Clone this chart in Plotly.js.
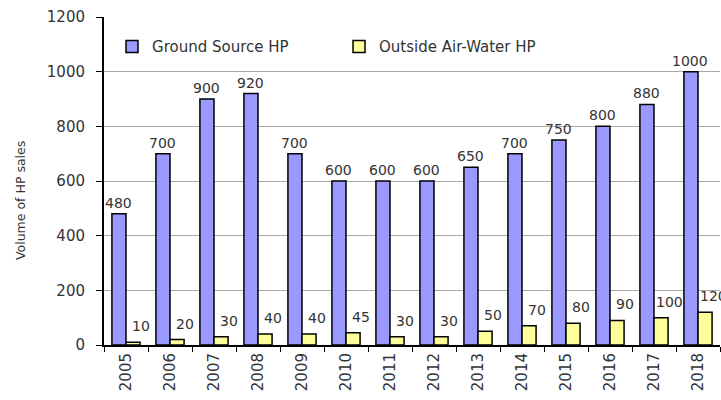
<!DOCTYPE html>
<html><head><meta charset="utf-8">
<script src="https://cdn.plot.ly/plotly-3.0.1.min.js"></script>
<style>html,body{margin:0;padding:0;background:#fff;}#chart{width:721px;height:400px;}</style>
</head><body><div id="chart"></div>
<script>
const years = ['2005','2006','2007','2008','2009','2010','2011','2012','2013','2014','2015','2016','2017','2018'];
const groundSource = [480,700,900,920,700,600,600,600,650,700,750,800,880,1000];
const airWater = [10,20,30,40,40,45,30,30,50,70,80,90,100,120];
const seriesNames = ['Ground Source HP','Outside Air-Water HP'];
const yTicks = [0,200,400,600,800,1000,1200];
const yTitle = 'Volume of HP sales';

const fam = 'DejaVu Sans, sans-serif';
const txtColor = '#333';
const traces = [
  {type:'bar', x:years, y:groundSource, name:seriesNames[0],
   marker:{color:'#9999FF', line:{color:'#000', width:1.5}}},
  {type:'bar', x:years, y:airWater, name:seriesNames[1],
   marker:{color:'#FFFF99', line:{color:'#000', width:1.5}}}
];
// value labels placed at each category (by index on the category axis)
const labelAnn = (ys, xshift, yshift) => ys.map((v, i) => ({
  x:i, y:v, xref:'x', yref:'y', text:String(v), showarrow:false,
  xanchor:'center', yanchor:'bottom', xshift:xshift, yshift:yshift,
  font:{family:fam, size:14, color:txtColor}
}));
const layout = {
  width:721, height:400,
  margin:{l:104, r:1, t:17, b:55},
  paper_bgcolor:'#fff', plot_bgcolor:'#fff',
  font:{family:fam, size:14, color:txtColor},
  barmode:'group', bargap:0.36, bargroupgap:0,
  showlegend:true,
  legend:{orientation:'h', x:0.013, y:0.909, xanchor:'left', yanchor:'middle',
          bgcolor:'rgba(0,0,0,0)', font:{family:fam, size:15, color:txtColor},
          itemwidth:30, entrywidth:182, entrywidthmode:'pixels', traceorder:'normal'},
  xaxis:{type:'category', range:[-0.5, years.length - 0.5], autorange:false,
         tickangle:-90, ticks:'outside', ticklen:5, tickson:'boundaries',
         tickcolor:'#000', showline:true, linecolor:'#000', linewidth:2, showgrid:false,
         tickfont:{family:fam, size:15, color:txtColor}, automargin:false},
  yaxis:{range:[0,1200], autorange:false, tickvals:yTicks, ticks:'outside', ticklen:6, tickcolor:'#000',
         showline:true, linecolor:'#000', linewidth:2, showgrid:true, gridcolor:'#aaa', gridwidth:1,
         zeroline:false, tickfont:{family:fam, size:15, color:txtColor},
         ticklabelstandoff:8, automargin:false},
  annotations:[
    {text:yTitle, xref:'paper', yref:'paper', x:(20-104)/616, y:(345-201)/328,
     xanchor:'center', yanchor:'middle', textangle:-90, showarrow:false,
     font:{family:fam, size:12.5, color:txtColor}}
  ].concat(labelAnn(groundSource, -8, 1), labelAnn(airWater, 15, 6))
};
Plotly.newPlot('chart', traces, layout, {displayModeBar:false, staticPlot:true});
</script></body></html>
